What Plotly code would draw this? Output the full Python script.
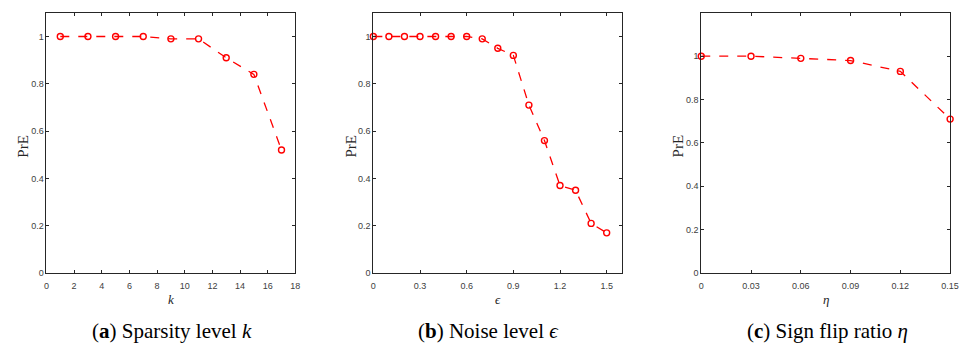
import plotly.graph_objects as go

k_vals = [1, 3, 5, 7, 9, 11, 13, 15, 17]
pre_k = [1.0, 1.0, 1.0, 1.0, 0.99, 0.99, 0.91, 0.84, 0.52]

eps_vals = [0, 0.1, 0.2, 0.3, 0.4, 0.5, 0.6, 0.7, 0.8, 0.9, 1.0, 1.1, 1.2, 1.3, 1.4, 1.5]
pre_eps = [1.0, 1.0, 1.0, 1.0, 1.0, 1.0, 1.0, 0.99, 0.95, 0.92, 0.71, 0.56, 0.37, 0.35, 0.21, 0.17]

eta_vals = [0, 0.03, 0.06, 0.09, 0.12, 0.15]
pre_eta = [1.0, 1.0, 0.99, 0.98, 0.93, 0.71]

W, H = 969, 354
fig = go.Figure()

panels = [
    (k_vals, pre_k, "x", "y", (44, 296), [0, 18], list(range(0, 19, 2)), [str(v) for v in range(0, 19, 2)], [0, 1.1], "<i>k</i>", "(<b>a</b>) Sparsity level <i>k</i>", 20, 171),
    (eps_vals, pre_eps, "x2", "y2", (375, 627), [0, 1.6], [0, 0.3, 0.6, 0.9, 1.2, 1.5], ["0", "0.3", "0.6", "0.9", "1.2", "1.5"], [0, 1.1], "<i>ϵ</i>", "(<b>b</b>) Noise level <i>ϵ</i>", 352, 492),
    (eta_vals, pre_eta, "x3", "y3", (707, 959), [0, 0.15], [0, 0.03, 0.06, 0.09, 0.12, 0.15], ["0", "0.03", "0.06", "0.09", "0.12", "0.15"], [0, 1.2], "<i>η</i>", "(<b>c</b>) Sign flip ratio <i>η</i>", 683, 835),
]

ydom = [(H - 277) / H, (H - 13) / H]
axis_color = "#262626"
tick_font = dict(family="Liberation Sans Narrow, Arial Narrow, Liberation Sans, Arial", size=9, color="#404040")
annotations = []
for i, (xs, ys, xa, ya, (l, r), xr, tv, tt, yr, xlab, cap, ylx, capx) in enumerate(panels):
    fig.add_trace(go.Scatter(
        x=xs, y=ys, xaxis=xa, yaxis=ya, mode="lines+markers",
        line=dict(color="#ff0000", width=1.3, dash="dash"),
        marker=dict(symbol="circle-open", color="#ff0000", size=6, line=dict(width=1.4)),
        showlegend=False, cliponaxis=False,
    ))
    suffix = "" if i == 0 else str(i + 1)
    fig.layout["xaxis" + suffix] = dict(
        domain=[l / W, r / W], range=xr, tickvals=tv, ticktext=tt,
        anchor="y" + suffix, showgrid=False, zeroline=False,
        showline=True, linecolor=axis_color, linewidth=1, mirror="ticks",
        ticks="inside", ticklen=3, tickcolor=axis_color, ticklabelstandoff=4,
        tickfont=tick_font,
    )
    fig.layout["yaxis" + suffix] = dict(
        domain=ydom, range=yr, tickvals=[0, 0.2, 0.4, 0.6, 0.8, 1],
        ticktext=["0", "0.2", "0.4", "0.6", "0.8", "1"],
        anchor="x" + suffix, showgrid=False, zeroline=False,
        showline=True, linecolor=axis_color, linewidth=1, mirror="ticks",
        ticks="inside", ticklen=3, tickcolor=axis_color,
        tickfont=tick_font,
    )
    annotations.append(dict(
        text="PrE", x=ylx / W, y=(H - 148) / H, xref="paper", yref="paper",
        textangle=-90, showarrow=False, font=dict(family="Liberation Serif, serif", size=15, color="#262626"),
        xanchor="center", yanchor="middle",
    ))
    annotations.append(dict(
        text=xlab, x=((l + r) / 2) / W, y=(H - 304) / H, xref="paper", yref="paper",
        showarrow=False, font=dict(family="Liberation Serif, serif", size=13, color="#262626"),
        xanchor="center", yanchor="middle",
    ))
    annotations.append(dict(
        text=cap, x=capx / W, y=(H - 336) / H, xref="paper", yref="paper",
        showarrow=False, font=dict(family="Liberation Serif, serif", size=21, color="#000000"),
        xanchor="center", yanchor="middle",
    ))

fig.update_layout(
    width=W, height=H, margin=dict(l=0, r=0, t=0, b=0),
    paper_bgcolor="white", plot_bgcolor="white",
    annotations=annotations,
)

fig.write_html("out.html")
